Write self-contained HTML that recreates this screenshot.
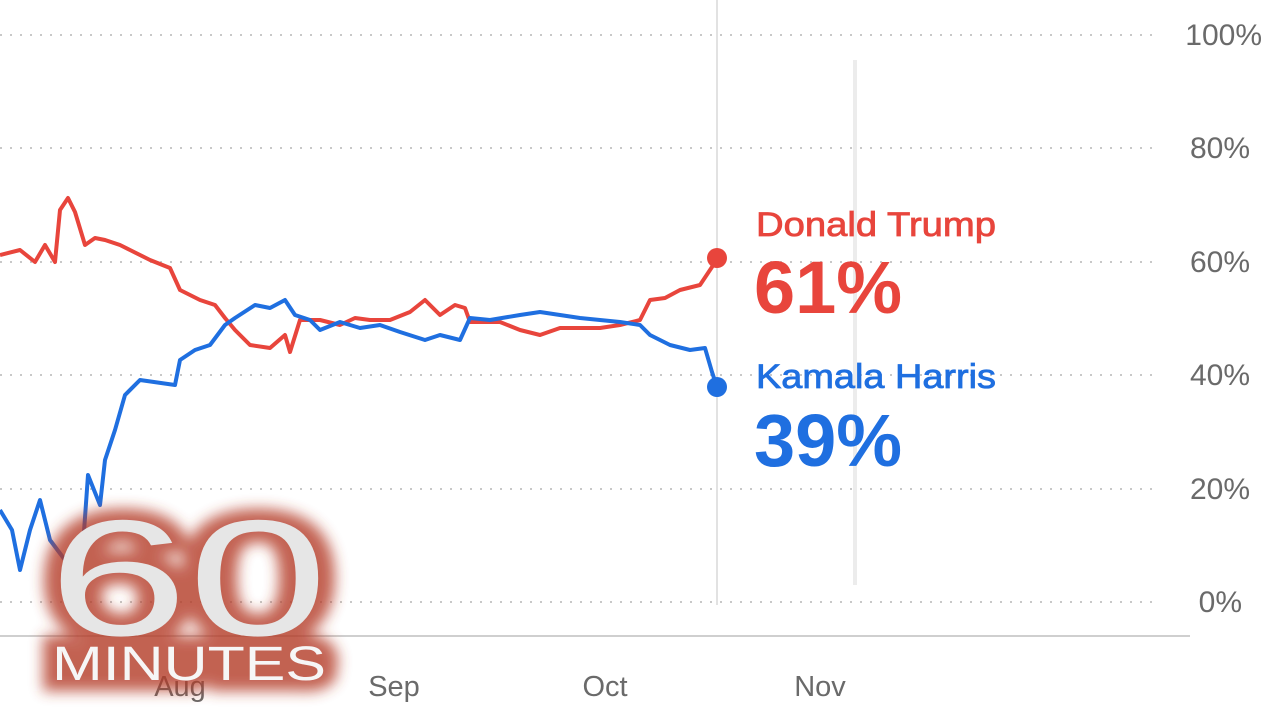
<!DOCTYPE html>
<html><head><meta charset="utf-8"><style>
html,body{margin:0;padding:0;background:#fff;width:1280px;height:720px;overflow:hidden}
svg{display:block}
</style></head><body>
<svg width="1280" height="720" viewBox="0 0 1280 720" xmlns="http://www.w3.org/2000/svg">
<defs>
<filter id="glow" x="-20%" y="-20%" width="140%" height="140%"><feGaussianBlur stdDeviation="7"/></filter>
</defs>
<g stroke="#c8c8c8" stroke-width="2" stroke-dasharray="2 8">
<line x1="0" y1="35" x2="1160" y2="35"/>
<line x1="0" y1="148" x2="1160" y2="148"/>
<line x1="0" y1="262" x2="1160" y2="262"/>
<line x1="0" y1="375" x2="1160" y2="375"/>
<line x1="0" y1="489" x2="1160" y2="489"/>
<line x1="0" y1="602" x2="1160" y2="602"/>
</g>
<line x1="0" y1="636" x2="1190" y2="636" stroke="#cfcfcf" stroke-width="2"/>
<line x1="717" y1="0" x2="717" y2="605" stroke="#e2e2e2" stroke-width="2"/>
<line x1="855" y1="60" x2="855" y2="585" stroke="#ececec" stroke-width="4"/>
<g font-family="Liberation Sans, sans-serif" font-size="30" fill="#6a6a6a" text-anchor="end">
<text x="1262" y="45">100%</text>
<text x="1250" y="158">80%</text>
<text x="1250" y="272">60%</text>
<text x="1250" y="385">40%</text>
<text x="1250" y="499">20%</text>
<text x="1242" y="612">0%</text>
</g>
<g font-family="Liberation Sans, sans-serif" font-size="29" fill="#6a6a6a" text-anchor="middle">
<text x="180" y="696">Aug</text>
<text x="394" y="696">Sep</text>
<text x="605" y="696">Oct</text>
<text x="820" y="696">Nov</text>
</g>
<polyline fill="none" stroke="#e8453c" stroke-width="4" stroke-linejoin="round" points="0,255 20,250 35,262 45,245 55,262 60,210 68,198 75,212 85,245 95,238 105,240 120,245 130,250 150,260 170,268 180,290 200,300 215,305 225,318 235,330 250,345 270,348 285,335 290,352 300,320 320,320 340,325 355,318 370,320 390,320 410,312 425,300 440,315 455,305 465,308 470,322 500,322 520,330 540,335 560,328 600,328 620,325 640,320 650,300 665,298 680,290 700,285 710,270 718,258"/>
<polyline fill="none" stroke="#1f6fe0" stroke-width="4" stroke-linejoin="round" points="0,510 12,530 20,570 30,530 40,500 50,540 65,560 75,575 82,560 88,475 100,505 105,460 115,430 125,395 140,380 175,385 180,360 195,350 210,345 225,325 235,318 255,305 270,308 285,300 295,315 310,320 320,330 340,322 360,328 380,325 400,332 425,340 440,335 460,340 470,318 490,320 520,315 540,312 560,315 580,318 600,320 620,322 640,325 650,335 670,345 690,350 705,348 712,372 717,387"/>
<circle cx="717" cy="258" r="10" fill="#e8453c"/>
<circle cx="717" cy="387" r="10" fill="#1f6fe0"/>
<g font-family="Liberation Sans, sans-serif">
<text x="756" y="236" font-size="34" textLength="240" lengthAdjust="spacingAndGlyphs" fill="#e8453c" stroke="#e8453c" stroke-width="0.8">Donald Trump</text>
<text x="754" y="313" font-size="74" font-weight="bold" fill="#e8453c">61%</text>
<text x="756" y="388" font-size="34" textLength="240" lengthAdjust="spacingAndGlyphs" fill="#1f6fe0" stroke="#1f6fe0" stroke-width="0.8">Kamala Harris</text>
<text x="754" y="466" font-size="74" font-weight="bold" fill="#1f6fe0">39%</text>
</g>
<g font-family="Liberation Sans, sans-serif">
<g filter="url(#glow)" fill="#b43a26" stroke="#b43a26" stroke-width="22" opacity="0.8">
<text x="48" y="635" font-size="165" textLength="280" lengthAdjust="spacingAndGlyphs">60</text>
<text x="52" y="680" font-size="48" textLength="274" lengthAdjust="spacingAndGlyphs">MINUTES</text>
</g>
<text x="48" y="635" font-size="165" textLength="280" lengthAdjust="spacingAndGlyphs" fill="#e6e6e6">60</text>
<text x="52" y="680" font-size="48" textLength="274" lengthAdjust="spacingAndGlyphs" fill="#f6f6f6">MINUTES</text>
</g>
</svg>
</body></html>
